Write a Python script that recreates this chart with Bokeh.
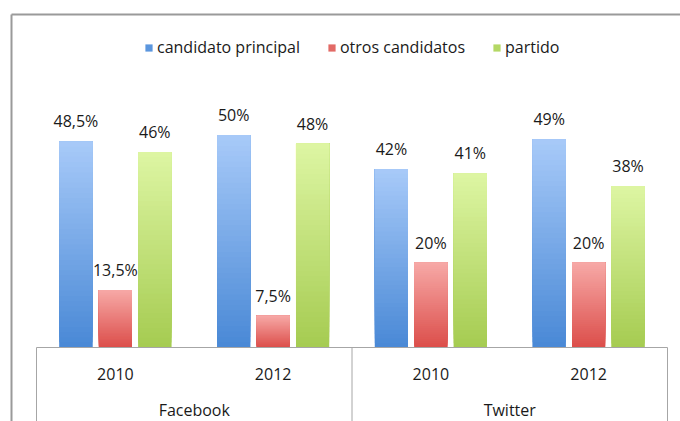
from bokeh.plotting import figure
from bokeh.models import Range1d, Legend, LegendItem
from bokeh.core.properties import value
from bokeh.embed import file_html
from bokeh.resources import INLINE

# ---- data ----
platforms = ["Facebook", "Twitter"]
years = ["2010", "2012", "2010", "2012"]
group_platform = ["Facebook", "Facebook", "Twitter", "Twitter"]
series_names = ["candidato principal", "otros candidatos", "partido"]
candidato_principal = [48.5, 50, 42, 49]
otros_candidatos = [13.5, 7.5, 20, 20]
partido = [46, 48, 41, 38]
label_principal = ["48,5%", "50%", "42%", "49%"]
label_otros = ["13,5%", "7,5%", "20%", "20%"]
label_partido = ["46%", "48%", "41%", "38%"]

# ---- layout constants (pixels) ----
W, H = 680, 421
PX_X = 157.75          # px per category
PX_Y = 4.25            # px per percent
X0_PX = 36             # left edge of category area (px from figure left)
BASE_PX = 347          # baseline (px from figure top)

xmin = -0.5 - X0_PX / PX_X
xmax = xmin + W / PX_X
ymax = BASE_PX / PX_Y
ymin = ymax - H / PX_Y

FONT = "Open Sans"
TEXT_COLOR = "#1a1a1a"
LINE_COLOR = "#a6a6a6"

p = figure(width=W, height=H, output_backend="svg", toolbar_location=None,
           x_range=Range1d(xmin, xmax), y_range=Range1d(ymin, ymax),
           min_border=0, outline_line_color=None)
p.axis.visible = False
p.grid.visible = False
p.background_fill_color = "white"
p.border_fill_color = "white"

n = len(years)
xs = list(range(n))
offsets = [-0.25, 0.0, 0.25]
bar_w = 0.21

def hex2rgb(h):
    h = h.lstrip("#")
    return tuple(int(h[i:i + 2], 16) for i in (0, 2, 4))

def lerp(c1, c2, t):
    a, b = hex2rgb(c1), hex2rgb(c2)
    return "#%02x%02x%02x" % tuple(round(a[i] + (b[i] - a[i]) * t) for i in range(3))

styles = [
    ("#a9cbf9", "#4a89d6", "#5b96de"),   # top, bottom, legend
    ("#f7aaa8", "#dc4f4b", "#e26a66"),
    ("#def6a4", "#a6cc52", "#b4d865"),
]
all_values = [candidato_principal, otros_candidatos, partido]
all_labels = [label_principal, label_otros, label_partido]

legend_items = []
NSTRIP = 40
for si, (vals, labs, (ctop, cbot, cleg)) in enumerate(zip(all_values, all_labels, styles)):
    bx = [x + offsets[si] for x in xs]
    base = p.vbar(x=bx, top=vals, bottom=0, width=bar_w, fill_color=cleg, line_color=None)
    # vertical gradient: overlapping strips from bottom (dark) to top (light)
    sx, sb, st, sc = [], [], [], []
    for k in range(NSTRIP):
        t = k / NSTRIP
        for x, v in zip(bx, vals):
            sx.append(x)
            sb.append(v * t)
            st.append(v)
            sc.append(lerp(cbot, ctop, t))
    p.vbar(x=sx, bottom=sb, top=st, width=bar_w, fill_color=sc, line_color=None)
    legend_items.append(LegendItem(label=series_names[si], renderers=[base]))
    p.text(x=bx, y=vals, text=labs, text_align="center", text_baseline="bottom",
           y_offset=-9, text_font=value(FONT), text_font_size="16px",
           text_color=TEXT_COLOR)

# category axis box (two levels)
p.segment(x0=[-0.5], y0=[0], x1=[n - 0.5], y1=[0], line_color=LINE_COLOR, line_width=1)
p.segment(x0=[-0.5, 1.5, 3.5], y0=[0, 0, 0], x1=[-0.5, 1.5, 3.5], y1=[ymin] * 3,
          line_color=LINE_COLOR, line_width=1)
p.text(x=xs, y=[-6.35] * n, text=years, text_align="center", text_baseline="middle",
       text_font=value(FONT), text_font_size="16px", text_color=TEXT_COLOR)
p.text(x=[0.5, 2.5], y=[-14.8, -14.8], text=platforms, text_align="center",
       text_baseline="middle", text_font=value(FONT), text_font_size="16px",
       text_color=TEXT_COLOR)

# chart outer border (top and left visible)
bx_left = xmin + 11 / PX_X
by_top = ymax - 14 / PX_Y
p.segment(x0=[bx_left, bx_left], y0=[by_top, by_top], x1=[xmax, bx_left], y1=[by_top, ymin],
          line_color="#9a9a9a", line_width=2)

legend = Legend(items=legend_items, orientation="horizontal", location=(144, 363),
                glyph_width=9, glyph_height=9, label_standoff=4, spacing=27,
                padding=0, margin=0, border_line_color=None, background_fill_alpha=0,
                label_text_font=FONT, label_text_font_size="16px",
                label_text_color=TEXT_COLOR, label_height=18)
p.add_layout(legend)

open("out.html", "w").write(file_html(p, INLINE))
